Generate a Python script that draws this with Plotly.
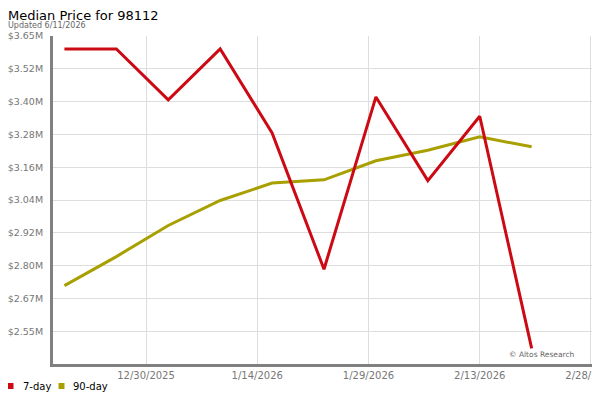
import plotly.graph_objects as go

# ---- data ----
dates = ["2025-12-19", "2025-12-26", "2026-01-02", "2026-01-09", "2026-01-16",
         "2026-01-23", "2026-01-30", "2026-02-06", "2026-02-13", "2026-02-20"]
seven_day = [3.602, 3.602, 3.412, 3.602, 3.289, 2.781, 3.423, 3.111, 3.351, 2.486]
ninety_day = [2.720, 2.828, 2.944, 3.037, 3.102, 3.114, 3.185, 3.224, 3.274, 3.237]

series_names = ["7-day", "90-day"]

y_tick_labels = ["$3.65M", "$3.52M", "$3.40M", "$3.28M", "$3.16M",
                 "$3.04M", "$2.92M", "$2.80M", "$2.67M", "$2.55M"]
x_tick_dates = ["2025-12-30", "2026-01-14", "2026-01-29", "2026-02-13", "2026-02-28"]
x_tick_labels = ["12/30/2025", "1/14/2026", "1/29/2026", "2/13/2026", "2/28/2026"]

RED = "#cc0a14"
OLIVE = "#a8a000"
FONT = "DejaVu Sans"

y_top = 3.65
y_step = (3.65 - 2.55) / 9
y_tick_vals = [y_top - k * y_step for k in range(len(y_tick_labels))]
y_range = [y_top - 10 * y_step, y_top]

fig = go.Figure()
fig.add_trace(go.Scatter(x=dates, y=ninety_day, mode="lines", name=series_names[1],
                         line=dict(color=OLIVE, width=3)))
fig.add_trace(go.Scatter(x=dates, y=seven_day, mode="lines", name=series_names[0],
                         line=dict(color=RED, width=3)))

# the page body has an 8px default margin; compensate so the plot area
# lands at page x 53..593, y 36..364
OFF = 8
FW, FH = 600 - OFF, 400 - OFF
L, R, T, B = 53 - OFF, 7, 36 - OFF, 36
W = FW - L - R
H = FH - T - B


def px_x(px):
    return (px - OFF - L) / W


def px_y(py):
    return (FH - B - (py - OFF)) / H


# hand-drawn legend (square swatch + label)
legend_items = [(series_names[0], RED, 10.5, 22), (series_names[1], OLIVE, 61.5, 72)]
shapes = []
annotations = []
for name, color, sx, tx in legend_items:
    shapes.append(dict(type="rect", xref="paper", yref="paper",
                       x0=px_x(sx - 3), x1=px_x(sx + 3),
                       y0=px_y(389), y1=px_y(383),
                       fillcolor=color, line=dict(width=0)))
    annotations.append(dict(text=name, xref="paper", yref="paper",
                            x=px_x(tx), y=px_y(386.5), xanchor="left", yanchor="middle",
                            showarrow=False, xshift=-1,
                            font=dict(family=FONT, size=10, color="#000000")))

annotations += [
    dict(text="Median Price for 98112", xref="paper", yref="paper",
         x=px_x(7), y=px_y(25), xanchor="left", yanchor="bottom",
         showarrow=False, xshift=-1, font=dict(family=FONT, size=13, color="#000000")),
    dict(text="Updated 6/11/2026", xref="paper", yref="paper",
         x=px_x(7), y=px_y(32), xanchor="left", yanchor="bottom",
         showarrow=False, xshift=-1, font=dict(family=FONT, size=8, color="#666666")),
    dict(text="© Altos Research", xref="paper", yref="paper",
         x=px_x(577), y=px_y(354), xanchor="right", yanchor="middle",
         showarrow=False, font=dict(family=FONT, size=7.5, color="#666666")),
]

fig.update_layout(
    width=FW, height=FH,
    margin=dict(l=L, r=R, t=T, b=B, pad=0, autoexpand=False),
    paper_bgcolor="white", plot_bgcolor="white",
    font=dict(family=FONT, color="#777777", size=10),
    showlegend=False,
    xaxis=dict(
        range=["2025-12-17 11:00", "2026-02-28 06:30"],
        tickvals=x_tick_dates, ticktext=x_tick_labels,
        showgrid=True, gridcolor="#dddddd", gridwidth=1,
        showline=True, linecolor="#808080", linewidth=3,
        ticks="", zeroline=False, ticklabeloverflow="allow",
        tickfont=dict(family=FONT, size=10, color="#777777"),
    ),
    yaxis=dict(
        range=y_range,
        tickvals=y_tick_vals, ticktext=y_tick_labels,
        showgrid=True, gridcolor="#dddddd", gridwidth=1,
        showline=True, linecolor="#808080", linewidth=3,
        ticks="", zeroline=False, ticklabelstandoff=5,
        tickfont=dict(family=FONT, size=9.5, color="#777777"),
    ),
    shapes=shapes,
    annotations=annotations,
)

fig.write_html("out.html")
